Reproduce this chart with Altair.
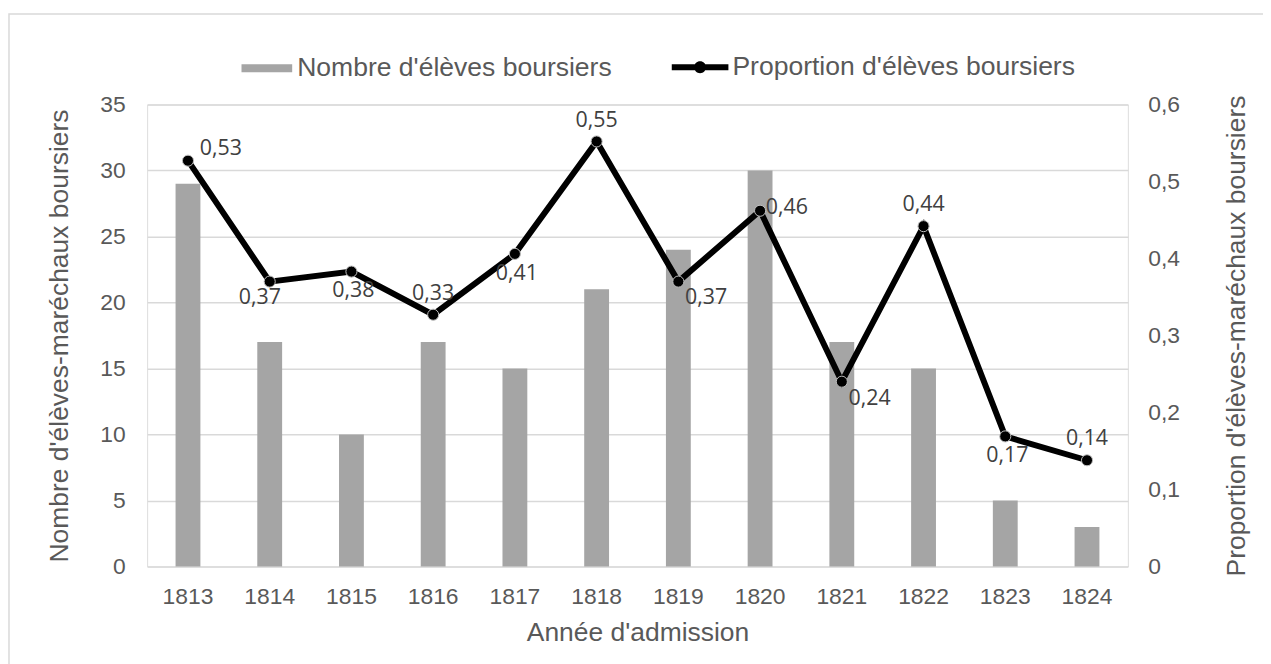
import altair as alt
import pandas as pd

# ---- data ----
years = ["1813", "1814", "1815", "1816", "1817", "1818",
         "1819", "1820", "1821", "1822", "1823", "1824"]
counts = [29, 17, 10, 17, 15, 21, 24, 30, 17, 15, 5, 3]
proportions = [0.527, 0.370, 0.383, 0.327, 0.406, 0.552,
               0.370, 0.462, 0.240, 0.442, 0.169, 0.138]
label_pos = ["NE", "SW", "S", "N", "S", "N", "SE", "E", "SE", "N", "S", "N"]

bar_name = "Nombre d'élèves boursiers"
line_name = "Proportion d'élèves boursiers"

df = pd.DataFrame({
    "year": years,
    "count": counts,
    "prop": proportions,
    "label": [f"{p:.2f}".replace(".", ",") for p in proportions],
    "pos": label_pos,
    "s_bar": bar_name,
    "s_line": line_name,
})

W, H = 987, 465
AX_FONT = "Liberation Sans"
AX_COLOR = "#595959"
TITLE_SIZE = 26.6

base = alt.Chart(df)
xenc = alt.X("year:O", title="Année d'admission",
             scale=alt.Scale(paddingInner=0, paddingOuter=0),
             axis=alt.Axis(labelAngle=0, domain=False, ticks=False,
                           labelFontSize=23, labelFont=AX_FONT, labelColor=AX_COLOR,
                           labelPadding=19, titleFontSize=TITLE_SIZE, titleFont=AX_FONT,
                           titleColor=AX_COLOR, titleFontWeight="normal", titlePadding=11))

bar_sym = "M-1,-0.157H1V0.157H-1Z"
line_sym = ("M-1,-0.105H1V0.105H-1Z "
            "M-0.21,0A0.21,0.21 0 1,1 0.21,0A0.21,0.21 0 1,1 -0.21,0Z")

leg_common = dict(title=None, labelFontSize=26.7, labelFont=AX_FONT, labelColor=AX_COLOR,
                  orient="none", labelOffset=4, labelLimit=0)

bars = base.mark_bar(width=25).encode(
    x=xenc,
    y=alt.Y("count:Q", title="Nombre d'élèves-maréchaux boursiers",
            scale=alt.Scale(domain=[0, 35]),
            axis=alt.Axis(values=[0, 5, 10, 15, 20, 25, 30, 35], domain=False, ticks=False,
                          grid=True, gridColor="#D9D9D9", gridWidth=1.5,
                          labelFontSize=23, labelFont=AX_FONT, labelColor=AX_COLOR,
                          labelPadding=22, titleFontSize=TITLE_SIZE, titleFont=AX_FONT,
                          titleColor=AX_COLOR, titleFontWeight="normal", titlePadding=27)),
    color=alt.Color("s_bar:N", scale=alt.Scale(range=["#A5A5A5"]),
                    legend=alt.Legend(symbolType=bar_sym, symbolSize=2601,
                                      legendX=94, legendY=-63, **leg_common)),
)

yprop = alt.Y("prop:Q", title="Proportion d'élèves-maréchaux boursiers",
              scale=alt.Scale(domain=[0, 0.6]),
              axis=alt.Axis(values=[0, 0.1, 0.2, 0.3, 0.4, 0.5, 0.6], orient="right",
                            domain=False, ticks=False, grid=False,
                            labelExpr="datum.value == 0 ? '0' : replace(format(datum.value, '.1f'), '.', ',')",
                            labelFontSize=23, labelFont=AX_FONT, labelColor=AX_COLOR,
                            labelPadding=20, titleFontSize=TITLE_SIZE, titleFont=AX_FONT,
                            titleColor=AX_COLOR, titleFontWeight="normal",
                            titleAngle=270, titlePadding=71))

line = base.mark_line(color="black", strokeWidth=6).encode(x=xenc, y=yprop)

points = base.mark_point(filled=True, size=125, opacity=1, stroke="#BFBFBF",
                         strokeWidth=1).encode(
    x=xenc, y=yprop,
    fill=alt.Fill("s_line:N", scale=alt.Scale(range=["black"]),
                  legend=alt.Legend(symbolType=line_sym, symbolSize=3249,
                                    symbolStrokeWidth=0,
                                    legendX=528, legendY=-66, **leg_common)),
)

offsets = {"N": (0, -21), "S": (2, 20), "SE": (28, 17), "SW": (-10, 17),
           "E": (27, -3), "NE": (33, -12)}
label_layers = []
for key, (dx, dy) in offsets.items():
    label_layers.append(
        base.transform_filter(alt.datum.pos == key)
        .mark_text(dx=dx, dy=dy, fontSize=21.5, font="Open Sans", color="#404040",
                   align="center", baseline="middle")
        .encode(x=xenc, y=yprop, text="label:N")
    )

frame = alt.Chart(pd.DataFrame({"k": [0]})).mark_rect(
    fill=None, stroke="#D9D9D9", strokeWidth=1.5, clip=False
).encode(x=alt.value(-139), x2=alt.value(1140), y=alt.value(-91), y2=alt.value(600))

right = alt.layer(line, points, *label_layers)

chart = alt.layer(frame, bars, right).resolve_scale(y="independent").properties(
    width=W, height=H,
    padding={"left": 140, "top": 95, "right": 136, "bottom": 96},
    autosize="none",
).configure_view(stroke=None).configure(background="white")

chart.save("out.html", embed_options={"renderer": "svg", "actions": False})
